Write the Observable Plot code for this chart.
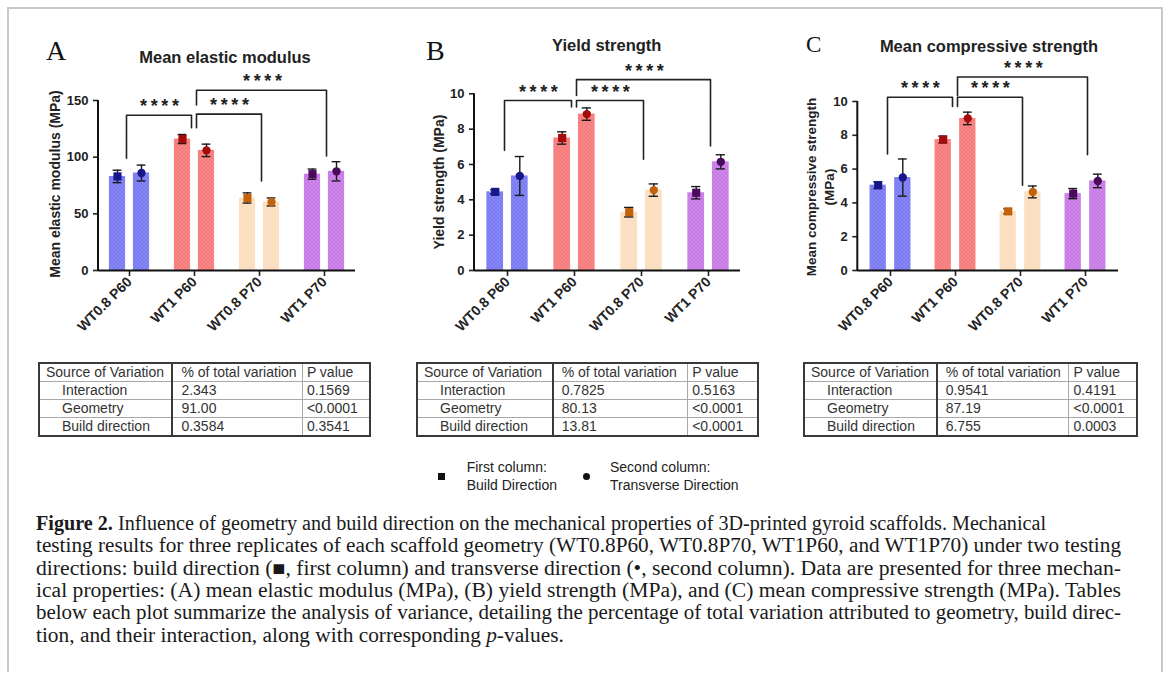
<!DOCTYPE html>
<html><head><meta charset="utf-8">
<script src="https://cdn.jsdelivr.net/npm/d3@7"></script>
<script src="https://cdn.jsdelivr.net/npm/@observablehq/plot@0.6"></script>
<style>
body{margin:0;background:#fff;}
#page{position:relative;width:1168px;height:677px;overflow:hidden;background:#fff;font-family:"Liberation Sans",Arial,sans-serif;color:#222}
.fr{position:absolute;background:#c8c8c8}
.letter{position:absolute;font-family:"Liberation Serif","Times New Roman",serif;color:#111;line-height:1}
.title{position:absolute;font-weight:bold;font-size:16.5px;transform:translate(-50%,-50%);white-space:nowrap;color:#222;line-height:20px}
.ylab{position:absolute;font-weight:bold;font-size:14px;transform:translate(-50%,-50%) rotate(-90deg);white-space:nowrap;text-align:center;line-height:18px;color:#222}
.chart{position:absolute}
.chart g[aria-label="x-axis tick label"] text{font-size:14px}
.chart g[aria-label="x-axis tick"], .chart g[aria-label="y-axis tick"]{stroke-width:1.6px}
table.anova{position:absolute;border-collapse:collapse;font-size:14px;color:#333;border:2px solid #3a3a3a;table-layout:fixed}
table.anova td{border:1px solid #a8a8a8;height:17px;padding:0 0 0 8px;line-height:17px;white-space:nowrap;overflow:hidden}
table.anova td.c0{border-right:2px solid #3a3a3a;padding-left:22px}
table.anova tr.hd td.c0{padding-left:6px}
table.anova td.c2{padding-left:4px}
.leg{position:absolute;font-size:14px;line-height:18px;color:#222}
.capline{position:absolute;left:36px;white-space:nowrap;font-family:"Liberation Serif","Times New Roman",serif;font-size:20px;line-height:22.4px;color:#1a1a1a;transform-origin:0 50%}
</style></head>
<body>
<div id="page"></div>
<script>
// ---------- data ----------
const groups = ["WT0.8 P60", "WT1 P60", "WT0.8 P70", "WT1 P70"];
const directions = ["First column:\nBuild Direction", "Second column:\nTransverse Direction"];

const modulusBuild = [83, 116, 64, 85];
const modulusBuildErr = [5.5, 4, 4.5, 4.5];
const modulusTrans = [86, 106, 60.5, 87.5];
const modulusTransErr = [7, 5.5, 3.5, 8.5];

const yieldBuild = [4.45, 7.5, 3.3, 4.4];
const yieldBuildErr = [0.12, 0.35, 0.27, 0.35];
const yieldTrans = [5.35, 8.85, 4.55, 6.15];
const yieldTransErr = [1.1, 0.35, 0.35, 0.4];

const compBuild = [5.05, 7.75, 3.5, 4.55];
const compBuildErr = [0.2, 0.2, 0.15, 0.3];
const compTrans = [5.5, 9.0, 4.65, 5.3];
const compTransErr = [1.1, 0.37, 0.35, 0.4];

// brackets: [from, to, top, leg bottom at from, leg bottom at to]
const bracketsA = [["WT0.8 P60", "WT1 P60", 137, 99, 126], ["WT1 P60", "WT0.8 P70", 138, 126, 79], ["WT1 P60", "WT1 P70", 159, 146, 101]];
const bracketsB = [["WT0.8 P60", "WT1 P60", 9.62, 6.8, 9.25], ["WT1 P60", "WT0.8 P70", 9.62, 9.25, 6.3], ["WT1 P60", "WT1 P70", 10.8, 9.9, 7.05]];
const bracketsC = [["WT0.8 P60", "WT1 P60", 10.25, 6.9, 9.7], ["WT1 P60", "WT0.8 P70", 10.25, 9.7, 5.05], ["WT1 P60", "WT1 P70", 11.45, 10.35, 6.85]];
const significance = "*\u2009*\u2009*\u2009*";

const ticksA = [0, 50, 100, 150];
const ticksB = [0, 2, 4, 6, 8, 10];
const ticksC = [0, 2, 4, 6, 8, 10];

const tableHeader = ["Source of Variation", "% of total variation", "P value"];
const anovaSources = ["Interaction", "Geometry", "Build direction"];
const anovaPctA = ["2.343", "91.00", "0.3584"];
const anovaPA = ["0.1569", "<0.0001", "0.3541"];
const anovaPctB = ["0.7825", "80.13", "13.81"];
const anovaPB = ["0.5163", "<0.0001", "<0.0001"];
const anovaPctC = ["0.9541", "87.19", "6.755"];
const anovaPC = ["0.4191", "<0.0001", "0.0003"];

const captionLines = [
  "<b>Figure 2.</b> Influence of geometry and build direction on the mechanical properties of 3D-printed gyroid scaffolds. Mechanical",
  "testing results for three replicates of each scaffold geometry (WT0.8P60, WT0.8P70, WT1P60, and WT1P70) under two testing",
  "directions: build direction (■, first column) and transverse direction (•, second column). Data are presented for three mechan-",
  "ical properties: (A) mean elastic modulus (MPa), (B) yield strength (MPa), and (C) mean compressive strength (MPa). Tables",
  "below each plot summarize the analysis of variance, detailing the percentage of total variation attributed to geometry, build direc-",
  "tion, and their interaction, along with corresponding <i>p</i>-values."
];

// ---------- styles ----------
const barColors = ["#7878f2", "#f67a7a", "#fbdcbb", "#c679e6"];
const hatchColors = ["#a0a0f8", "#fa9e9e", "#fdeadb", "#d99cef"];
const pointColors = ["#17178a", "#a50b0b", "#c4620c", "#4a0b5c"];

const page = document.getElementById("page");
function el(tag, cls, css, html) {
  const e = document.createElement(tag);
  if (cls) e.className = cls;
  if (css) e.style.cssText = css;
  if (html != null) e.innerHTML = html;
  page.appendChild(e);
  return e;
}

// frame
el("div", "fr", "left:7px;top:7px;width:1156px;height:2px");
el("div", "fr", "left:7px;top:7px;width:2px;height:665px");
el("div", "fr", "left:1161px;top:7px;width:2px;height:665px");

// patterns
const defsSvg = d3.select(page).append("svg").attr("width", 0).attr("height", 0).style("position", "absolute");
const defs = defsSvg.append("defs");
barColors.forEach((c, i) => {
  const p = defs.append("pattern").attr("id", `hatch${i}`).attr("patternUnits", "userSpaceOnUse").attr("width", 4).attr("height", 4);
  p.append("rect").attr("width", 4).attr("height", 4).attr("fill", c);
  p.append("path").attr("d", "M0,0L4,4M4,0L0,4").attr("stroke", hatchColors[i]).attr("stroke-width", 0.7).attr("opacity", 0.6);
});

function drawChart(cfg) {
  const {left, top, W, H, ml, mr, mt, mb, pi, po, barW, off, build, buildErr, trans, transErr, brackets, yDomain, yTicks} = cfg;
  const rows = [];
  groups.forEach((g, i) => {
    rows.push({group: g, dir: 0, v: build[i], e: buildErr[i], i});
    rows.push({group: g, dir: 1, v: trans[i], e: transErr[i], i});
  });
  const step = (W - ml - mr) / (groups.length - pi + 2 * po);
  const bw = step * (1 - pi);
  const barInset = (bw - barW) / 2;
  const capInset = (bw - 9.5) / 2;
  const marks = [];
  [[0, -off, "square", 4.6], [1, off, "circle", 4.2]].forEach(([dir, dx, sym, r]) => {
    const d = rows.filter(x => x.dir === dir);
    marks.push(
      Plot.barY(d, {x: "group", y: "v", fill: x => `url(#hatch${x.i})`, dx, insetLeft: barInset, insetRight: barInset}),
      Plot.ruleX(d, {x: "group", y1: x => x.v - x.e, y2: x => x.v + x.e, dx, stroke: "#1a1a1a", strokeWidth: 1.4}),
      Plot.tickY(d, {x: "group", y: x => x.v + x.e, dx, insetLeft: capInset, insetRight: capInset, stroke: "#1a1a1a", strokeWidth: 1.4}),
      Plot.tickY(d, {x: "group", y: x => x.v - x.e, dx, insetLeft: capInset, insetRight: capInset, stroke: "#1a1a1a", strokeWidth: 1.4}),
      Plot.dot(d, {x: "group", y: "v", dx, symbol: sym, r, fill: x => pointColors[x.i], stroke: "none"})
    );
  });
  brackets.forEach((b, k) => {
    const [from, to, yTop, yl, yr] = b;
    const bdx = k === 0 ? -3 : 2;
    marks.push(Plot.line([{x: from, y: yl}, {x: from, y: yTop}, {x: to, y: yTop}, {x: to, y: yr}],
      {x: "x", y: "y", dx: bdx, stroke: "#222", strokeWidth: 1.6}));
    const span = groups.indexOf(to) - groups.indexOf(from);
    marks.push(Plot.text([{x: from, y: yTop}], {x: "x", y: "y", text: () => significance, dx: span * step / 2 + bdx, dy: -3,
      lineAnchor: "bottom", fontSize: 18, fontWeight: "bold", fill: "#222"}));
  });
  marks.push(
    Plot.axisY({ticks: yTicks, tickSize: 5, tickPadding: 5, label: null}),
    Plot.axisX({tickRotate: -45, tickSize: 6, tickPadding: 3, label: null}),
    Plot.ruleY([0], {stroke: "#111", strokeWidth: 2}),
    (index, scales, values, dims) => {
      const line = d3.create("svg:line")
        .attr("x1", dims.marginLeft).attr("x2", dims.marginLeft)
        .attr("y1", dims.marginTop).attr("y2", dims.height - dims.marginBottom + 1)
        .attr("stroke", "#111").attr("stroke-width", 2);
      return line.node();
    }
  );
  const svg = Plot.plot({
    width: W, height: H, marginLeft: ml, marginRight: mr, marginTop: mt, marginBottom: mb,
    x: {domain: groups, paddingInner: pi, paddingOuter: po, align: 0.5},
    y: {domain: yDomain},
    color: {type: "identity"},
    style: {fontFamily: "Liberation Sans, Arial, sans-serif", fontSize: "13px", fontWeight: "bold", color: "#222", background: "transparent", overflow: "visible"},
    marks
  });
  const wrap = el("div", "chart", `left:${left}px;top:${top}px;width:${W}px;height:${H}px`);
  wrap.appendChild(svg);
}

drawChart({left: 30, top: 30, W: 340, H: 320, ml: 68, mr: 15, mt: 70, mb: 80, pi: 0.2, po: 0.047, barW: 17, off: 12,
  build: modulusBuild, buildErr: modulusBuildErr, trans: modulusTrans, transErr: modulusTransErr, brackets: bracketsA, yDomain: [0, 150], yTicks: ticksA});
drawChart({left: 400, top: 30, W: 350, H: 320, ml: 74, mr: 10, mt: 63.3, mb: 80, pi: 0.2, po: 0.06, barW: 17, off: 12.3,
  build: yieldBuild, buildErr: yieldBuildErr, trans: yieldTrans, transErr: yieldTransErr, brackets: bracketsB, yDomain: [0, 10], yTicks: ticksB});
drawChart({left: 770, top: 30, W: 380, H: 320, ml: 87.3, mr: 32, mt: 71, mb: 80, pi: 0.2, po: 0.08, barW: 17, off: 12.3,
  build: compBuild, buildErr: compBuildErr, trans: compTrans, transErr: compTransErr, brackets: bracketsC, yDomain: [0, 10], yTicks: ticksC});

// letters, titles, axis labels
el("div", "letter", "left:46px;top:36.7px;font-size:28px", "A");
el("div", "letter", "left:426px;top:36.7px;font-size:28px", "B");
el("div", "letter", "left:806px;top:32.8px;font-size:23px", "C");
el("div", "title", "left:225px;top:56.7px", "Mean elastic modulus");
el("div", "title", "left:606.7px;top:45px", "Yield strength");
el("div", "title", "left:989px;top:46px", "Mean compressive strength");
el("div", "ylab", "left:55px;top:184px", "Mean elastic modulus (MPa)");
el("div", "ylab", "left:439px;top:182px", "Yield strength (MPa)");
el("div", "ylab", "left:821px;top:187px;font-size:13.5px", "Mean compressive strength<br>(MPa)");

// tables
function makeTable(left, top, widths, pct, pv) {
  const t = el("table", "anova", `left:${left}px;top:${top}px;width:${widths.reduce((a, b) => a + b, 0)}px`);
  const cg = document.createElement("colgroup");
  widths.forEach(w => { const c = document.createElement("col"); c.style.width = w + "px"; cg.appendChild(c); });
  t.appendChild(cg);
  const tb = document.createElement("tbody");
  const addRow = (cells, cls) => {
    const tr = document.createElement("tr");
    if (cls) tr.className = cls;
    cells.forEach((c, j) => { const td = document.createElement("td"); td.className = "c" + j; td.textContent = c; tr.appendChild(td); });
    tb.appendChild(tr);
  };
  addRow(tableHeader, "hd");
  anovaSources.forEach((s, i) => addRow([s, pct[i], pv[i]]));
  t.appendChild(tb);
}
makeTable(38, 362, [133.4, 130, 67.6], anovaPctA, anovaPA);
makeTable(416, 362, [135.7, 135, 70], anovaPctB, anovaPB);
makeTable(803, 362, [132.7, 132.3, 68.4], anovaPctC, anovaPC);

// legend
el("div", "", "position:absolute;left:438.2px;top:473.2px;width:7px;height:7px;background:#111");
el("div", "", "position:absolute;left:583.2px;top:472.5px;width:7px;height:7px;border-radius:50%;background:#111");
el("div", "leg", "left:466.7px;top:457.7px", directions[0].replace("\n", "<br>"));
el("div", "leg", "left:610px;top:457.7px", directions[1].replace("\n", "<br>"));

// caption: each line scaled horizontally to its measured width in the figure
const lineTargets = [1010, 1085, 1085, 1085, 1085, null];
const lineDivs = captionLines.map((h, i) => el("div", "capline", `top:${511.8 + i * 22.4}px`, h));
const scales = [];
lineDivs.forEach((d, i) => {
  const w = d.getBoundingClientRect().width;
  if (lineTargets[i]) {
    const sc = lineTargets[i] / w;
    scales.push(sc);
    d.style.transform = `scaleX(${sc})`;
  } else {
    const sc = d3.mean(scales.slice(1));
    d.style.transform = `scaleX(${sc})`;
  }
});
</script>
</body></html>
